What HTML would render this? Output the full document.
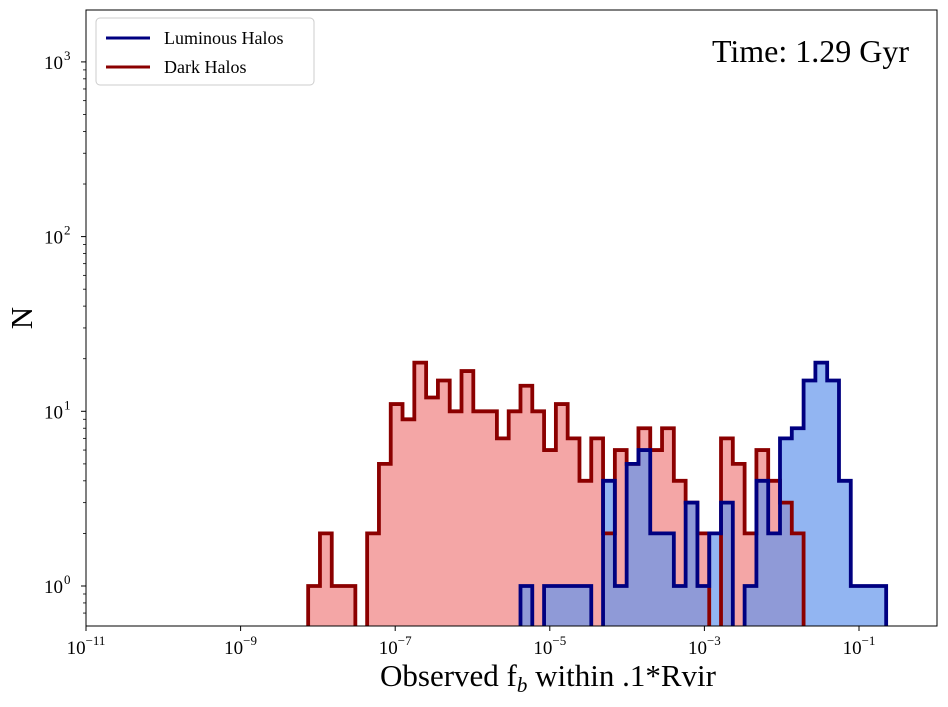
<!DOCTYPE html>
<html><head><meta charset="utf-8"><style>
body{margin:0;background:#fff;}
svg text{font-family:"Liberation Serif",serif;fill:#000;}
</style></head><body>
<svg id="c" width="948" height="702" xmlns="http://www.w3.org/2000/svg">
<defs><clipPath id="pa"><rect x="86" y="10" width="851" height="616"/></clipPath></defs>
<rect x="0" y="0" width="948" height="702" fill="#fff"/>
<g id="fills" clip-path="url(#pa)"></g>
<g id="steps" clip-path="url(#pa)"></g>
<rect x="86" y="10" width="851" height="616" fill="none" stroke="#000" stroke-width="1"/>
<g id="axes"></g>
<text x="380" y="686" font-size="31">Observed f<tspan font-size="21" dy="6" font-style="italic">b</tspan><tspan dy="-6"> within .1*Rvir</tspan></text>
<text transform="translate(32,318) rotate(-90)" text-anchor="middle" font-size="31">N</text>
<text x="909" y="62" text-anchor="end" font-size="32">Time: 1.29 Gyr</text>
<g>
<rect x="96" y="18" width="218" height="67" rx="4" fill="#fff" stroke="#ccc" stroke-width="1"/>
<line x1="106" y1="38" x2="150" y2="38" stroke="#000080" stroke-width="3"/>
<text x="164" y="44" font-size="18">Luminous Halos</text>
<line x1="106" y1="67" x2="150" y2="67" stroke="#8b0000" stroke-width="3"/>
<text x="164" y="73" font-size="18">Dark Halos</text>
</g>
</svg>
<script>
const binStartLog = -8.126;
const binWidthLog = 0.1526;
const darkCounts = [1,2,1,1,0,2,5,11,9,19,12,15,10,17,10,10,7,10,14,10,6,11,7,4,7,2,6,5,8,6,8,4,3,2,0,7,5,2,6,4,3,2];
const lumCounts = [0,0,0,0,0,0,0,0,0,0,0,0,0,0,0,0,0,0,1,0,1,1,1,1,0,4,1,5,6,2,2,1,3,1,2,3,0,1,4,2,7,8,15,19,15,4,1,1,1];
const xTickExps = [-11,-9,-7,-5,-3,-1];
const yTickExps = [0,1,2,3];
const NS="http://www.w3.org/2000/svg";
function X(lg){return 86+(lg+11)*77.3;}
function Y(n){return n<=0?640:586-174.7*Math.log10(n);}
function stepPath(counts){
  let d="";
  counts.forEach((c,i)=>{
    const x0=X(binStartLog+i*binWidthLog), x1=X(binStartLog+(i+1)*binWidthLog);
    d+=(i===0?"M"+x0+","+Y(0):"")+" L"+x0+","+Y(c)+" L"+x1+","+Y(c);
  });
  d+=" L"+X(binStartLog+counts.length*binWidthLog)+","+Y(0);
  return d;
}
const fills=document.getElementById('fills'), steps=document.getElementById('steps');
function mk(tag,attrs,parent){const e=document.createElementNS(NS,tag);for(const k in attrs)e.setAttribute(k,attrs[k]);parent.appendChild(e);return e;}
let e;
e=mk('path',{d:stepPath(darkCounts)+"Z",fill:"rgb(240,128,128)","fill-opacity":"0.7"},fills);


e=mk('path',{d:stepPath(lumCounts)+"Z",fill:"rgb(100,149,237)","fill-opacity":"0.7"},fills);


e=mk('path',{d:stepPath(darkCounts),fill:"none",stroke:"#8b0000","stroke-width":"3.8"},steps);


e=mk('path',{d:stepPath(lumCounts),fill:"none",stroke:"#000080","stroke-width":"3.8"},steps);


const ax=document.getElementById('axes');
xTickExps.forEach(p=>{
  const x=X(p);
  mk('line',{x1:x,y1:626,x2:x,y2:631,stroke:"#000"},ax);
  const t=mk('text',{x:x,y:654,"text-anchor":"middle","font-size":"19"},ax);
  t.innerHTML='10<tspan font-size="13" dy="-9">\u2212'+Math.abs(p)+'</tspan>';
  
  
});
yTickExps.forEach(p=>{
  const y=Y(Math.pow(10,p));
  mk('line',{x1:81,y1:y,x2:86,y2:y,stroke:"#000"},ax);
  const t=mk('text',{x:63,y:y+7,"text-anchor":"end","font-size":"19"},ax);
  t.textContent='10';
  
  
  const s=mk('text',{x:64,y:y-2,"font-size":"13"},ax);
  s.textContent=String(p);
  for(let m=2;m<10;m++){
    const ym=Y(m*Math.pow(10,p));
    if(ym>10&&ym<626) mk('line',{x1:83,y1:ym,x2:86,y2:ym,stroke:"#000","stroke-width":"0.8"},ax);
  }
});
[0.7,0.8,0.9].forEach(v=>{mk('line',{x1:83,y1:Y(v),x2:86,y2:Y(v),stroke:"#000","stroke-width":"0.8"},ax);});
</script>
</body></html>
